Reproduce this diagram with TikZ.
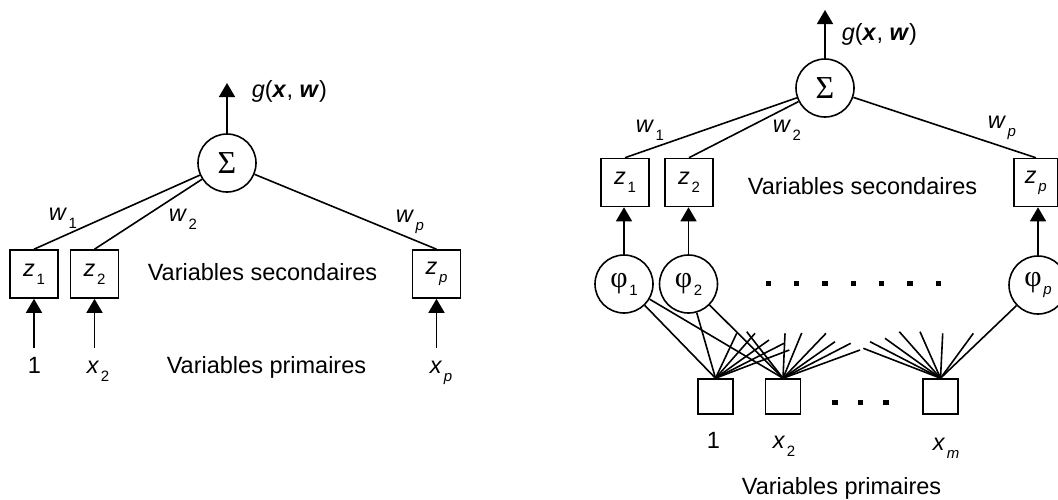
\documentclass[tikz,border=0pt]{standalone}
\usepackage{fontspec}
\setmainfont{Liberation Sans}
\newfontfamily\seriffont{Liberation Serif}
\usetikzlibrary{arrows.meta}
\newcommand{\sbs}[1]{\kern0.8pt\raisebox{-4pt}{\fontsize{7.5}{8}\selectfont #1}}
\newcommand{\phisym}{{\seriffont\fontsize{15}{15}\selectfont φ}}
\begin{document}
\begin{tikzpicture}[x=0.5pt,y=-0.5pt, line width=0.8pt,
  every node/.style={font=\fontsize{11.75}{14}\selectfont},
  box/.style={draw, minimum size=24pt, inner sep=0pt},
  sbox/.style={draw, minimum size=17.5pt, inner sep=0pt},
  sumnode/.style={draw, circle, minimum size=29pt, inner sep=0pt, font=\seriffont\fontsize{16}{16}\selectfont},
  phinode/.style={draw, circle, minimum size=29pt, inner sep=0pt},
  arr/.style={-{Triangle[length=7pt,width=8pt]}},
  lbl/.style={anchor=base west, inner sep=0pt},
  dot/.style={fill, minimum size=2.6pt, inner sep=0pt}]
\useasboundingbox (0,0) rectangle (1058,499);

% ---------------- Left diagram ----------------
\node[sumnode] (sigL) at (227,163) {Σ};
\coordinate (gLtip) at (227,83);
\draw[arr] (sigL.north) -- (gLtip);
\node[lbl] (gL) at (251,97) {\textit{g}(\textbf{\textit{x}}, \textbf{\textit{w}})};

\node[box] (lz1) at (34,274) {\textit{z}\sbs{1}};
\node[box] (lz2) at (94.5,274) {\textit{z}\sbs{2}};
\node[box] (lzp) at (436.5,274) {\textit{z}\sbs{\textit{p}}};

\draw (sigL) -- (lz1.north);
\draw (sigL) -- (lz2.north);
\draw (sigL) -- (lzp.north);

\node[lbl] (lw1) at (48,220) {\textit{w}\sbs{1}};
\node[lbl] (lw2) at (168,221) {\textit{w}\sbs{2}};
\node[lbl] (lwp) at (395,222) {\textit{w}\sbs{\textit{p}}};

\node[lbl] (lsec) at (147,280) {Variables secondaires};
\node[lbl] (lprim) at (166,373) {Variables primaires};

\coordinate (la1) at (34,348);
\coordinate (la2) at (94.5,348);
\coordinate (lap) at (436.5,348);
\draw[arr] (la1) -- (lz1.south);
\draw[arr] (la2) -- (lz2.south);
\draw[arr] (lap) -- (lzp.south);

\node[lbl] (lx1) at (27,373) {1};
\node[lbl] (lx2) at (86,373) {\textit{x}\sbs{2}};
\node[lbl] (lxp) at (429,373) {\textit{x}\sbs{\textit{p}}};

% ---------------- Right diagram ----------------
\node[sumnode] (sigR) at (825,88) {Σ};
\coordinate (gRtip) at (825,10);
\draw[arr] (sigR.north) -- (gRtip);
\node[lbl] (gR) at (841,40) {\textit{g}(\textbf{\textit{x}}, \textbf{\textit{w}})};

\node[box] (rz1) at (625,182.5) {\textit{z}\sbs{1}};
\node[box] (rz2) at (689,182.5) {\textit{z}\sbs{2}};
\node[box, minimum width=21.75pt] (rzp) at (1035.75,182.5) {\textit{z}\sbs{\textit{p}}};

\draw (sigR) -- (rz1.north);
\draw (sigR) -- (rz2.north);
\draw (sigR) -- (rzp.north);

\node[lbl] (rw1) at (635,132) {\textit{w}\sbs{1}};
\node[lbl] (rw2) at (772,132) {\textit{w}\sbs{2}};
\node[lbl] (rwp) at (987,128) {\textit{w}\sbs{\textit{p}}};

\node[lbl] (rsec) at (747,194) {Variables secondaires};

\node[phinode] (phi1) at (624,284) {\phisym\sbs{1}};
\node[phinode] (phi2) at (688.5,284) {\phisym\sbs{2}};
\node[phinode] (phip) at (1038,285) {\phisym\sbs{\textit{p}}};

\draw[arr] (phi1.north) -- (phi1.north |- rz1.south);
\draw[arr] (phi2.north) -- (phi2.north |- rz2.south);
\draw[arr] (phip.north) -- (phip.north |- rzp.south);

\foreach \x [count=\i] in {768.3,796.7,825,853.3,881.7,910,938.3}
  \node[dot] (d\i) at (\x,283.3) {};

\node[sbox] (b1) at (715.5,396.5) {};
\node[sbox] (b2) at (783,396.5) {};
\node[sbox] (bm) at (940.5,396.5) {};

\foreach \x [count=\i] in {835,860.5,886}
  \node[dot] (e\i) at (\x,402.7) {};

\draw (b1.north) -- (phi1);
\draw (b1.north) -- (phi2);
\draw (b2.north) -- (phi1);
\draw (b2.north) -- (phi2);
\draw (bm.north) -- (phip);

\foreach \p in {(736.7,333.3),(755,333.3),(769,340),(784,343.3),(789.3,350)}
  \draw (b1.north) -- \p;
\foreach \p in {(746.7,331.7),(785,333.3),(801.7,333),(826,333.3),(835,341.7),(850.7,343.3),(860,350)}
  \draw (b2.north) -- \p;
\foreach \p in {(863.3,348.3),(870,341.7),(885,338.3),(899.3,331.7),(920,331.7),(942.7,333.3),(973.3,333.3)}
  \draw (bm.north) -- \p;

\node[lbl] (rx1) at (706,448) {1};
\node[lbl] (rx2) at (772,448) {\textit{x}\sbs{2}};
\node[lbl] (rxm) at (932,450) {\textit{x}\sbs{\textit{m}}};

\node[lbl] (rprim) at (741,494) {Variables primaires};
\end{tikzpicture}
\end{document}
